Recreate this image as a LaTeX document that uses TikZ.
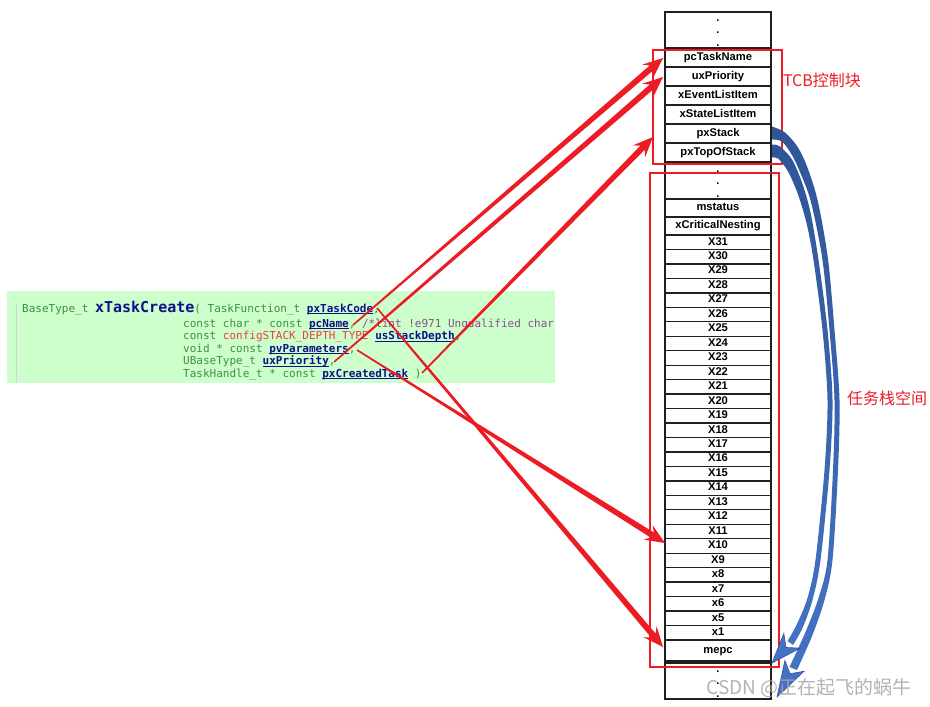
\documentclass[tikz,border=0pt]{standalone}
\usepackage{fontspec}
\setmainfont{Liberation Sans}
\newfontfamily\cjkf{Noto Sans CJK SC}
\newfontfamily\codef{DejaVu Sans Mono}
\usetikzlibrary{calc}
\definecolor{arrred}{HTML}{ED1C24}
\definecolor{boxred}{HTML}{EE1C25}
\definecolor{codebg}{HTML}{CCFFCC}
\definecolor{cgreen}{HTML}{3F8F3F}
\definecolor{cnavy}{HTML}{10108A}
\definecolor{cred}{HTML}{F03C3C}
\definecolor{cpurple}{HTML}{8B4F8B}
\definecolor{bdark}{HTML}{2F5597}
\definecolor{blight}{HTML}{4472C4}
\newcommand\pn[1]{{\color{cnavy}\setbox0=\hbox{\bfseries #1}\rlap{\rule[-2pt]{\wd0}{0.7pt}}\box0}}
\newcommand\redarrow[2]{%
  \path ($(#2)!15pt!(#1)$) coordinate (rab) ($(#2)!20pt!(#1)$) coordinate (rac);
  \fill[arrred] ($(#1)!0.8pt!90:(#2)$) -- ($(rab)!3pt!90:(#2)$) -- ($(rac)!8.5pt!90:(#2)$) -- (#2)
    -- ($(rac)!8.5pt!-90:(#2)$) -- ($(rab)!3pt!-90:(#2)$) -- ($(#1)!0.8pt!-90:(#2)$) -- cycle;}
\newcommand\bluehead[2]{%
  \path ($(#1)!6pt!(#2)$) coordinate (bhn) ($(#1)!-3pt!(#2)$) coordinate (bhw);
  \filldraw[fill=blight, draw=bdark, line width=0.6pt, line join=miter]
    (#2) -- ($(bhw)!11pt!90:(#2)$) -- (bhn) -- ($(bhw)!11pt!-90:(#2)$) -- cycle;}
\begin{document}
\begin{tikzpicture}[x=1pt,y=-1pt,
  cell/.style={draw=black!88, line width=1.3pt, minimum width=106pt, inner sep=0pt,
    font=\bfseries\fontsize{11.2}{12}\selectfont, text height=7.8pt, text depth=2.2pt},
  emptycell/.style={draw=black!88, line width=1.3pt, minimum width=106pt, inner sep=0pt},
  dots/.style={inner sep=0pt, align=center, font=\bfseries\fontsize{11}{12.2}\selectfont},
  redbox/.style={draw=boxred, line width=1.6pt, inner sep=0pt},
  code/.style={anchor=base west, inner sep=0pt, font=\codef\fontsize{11}{13}\selectfont, text=cgreen},
  lab/.style={text=arrred, font=\cjkf\fontsize{16}{18}\selectfont, inner sep=0pt}]
\useasboundingbox (0,0) rectangle (930,707);
\fill[white] (0,0) rectangle (930,707);

% code block
\node[fill=codebg, minimum width=548pt, minimum height=92pt, inner sep=0pt] (codebox) at (281,337) {};
\draw[gray!35, line width=0.6pt] (16,305) -- (16,383);
\node[code] (l1) at (22,312) {BaseType\_t {\fontsize{15}{15}\selectfont\bfseries\color{cnavy}xTaskCreate}( TaskFunction\_t \pn{pxTaskCode},};
\node[code] (l2) at (183,327) {const char * const \pn{pcName}, {\color{cpurple}/*lint !e971 Unqualified char}};
\node[code] (l3) at (183,339.5) {const {\color{cred}configSTACK\_DEPTH\_TYPE} \pn{usStackDepth},};
\node[code] (l4) at (183,352) {void * const \pn{pvParameters},};
\node[code] (l5) at (183,364.5) {UBaseType\_t \pn{uxPriority},};
\node[code] (l6) at (183,377) {TaskHandle\_t * const \pn{pxCreatedTask} )};

% memory column
\node[emptycell, minimum height=36pt] (dtop) at (718,30) {};
\node[dots] (dtopd) at (718,33) {.\\.\\.};
\node[cell, minimum height=19pt] (tname) at (718,57.5) {pcTaskName};
\node[cell, minimum height=19pt] (tprio) at (718,76.5) {uxPriority};
\node[cell, minimum height=19pt] (tevent) at (718,95.5) {xEventListItem};
\node[cell, minimum height=19pt] (tstate) at (718,114.5) {xStateListItem};
\node[cell, minimum height=19pt] (tstack) at (718,133.5) {pxStack};
\node[cell, minimum height=19pt] (ttop) at (718,152.5) {pxTopOfStack};
\node[emptycell, minimum height=37pt] (dmid) at (718,180.5) {};
\node[dots] (dmidd) at (718,184) {.\\.\\.};
\node[cell, minimum height=18pt] (mstat) at (718,208) {mstatus};
\node[cell, minimum height=18pt] (xcrit) at (718,226) {xCriticalNesting};
\foreach \lab [count=\i] in {X31,X30,X29,X28,X27,X26,X25,X24,X23,X22,X21,X20,X19,X18,X17,X16,X15,X14,X13,X12,X11,X10,X9,x8,x7,x6,x5,x1}
  \node[cell, minimum height=14.464pt] (s\i) at (718,{235+(\i-0.5)*14.464}) {\lab};
\node[cell, minimum height=21pt] (mepc) at (718,650.5) {mepc};
\node[emptycell, minimum height=36pt] (dbot) at (718,681) {};
\node[dots] (dbotd) at (718,684) {.\\.\\.};

% red frames and labels
\node[redbox, minimum width=129pt, minimum height=114pt] (tcb) at (717.5,107) {};
\node[redbox, minimum width=129pt, minimum height=494pt] (stk) at (714.5,420) {};
\node[lab] (tcblab) at (822,80) {TCB控制块};
\node[lab] (stklab) at (887,398) {任务栈空间};

% red arrows
\coordinate (cA) at (353,325);
\coordinate (cB) at (334,362);
\coordinate (cC) at (422,373);
\coordinate (cD) at (377,308);
\coordinate (cE) at (357,350);
\coordinate (tA) at (663,58);
\coordinate (tB) at (663,77);
\coordinate (tC) at (653,137);
\coordinate (tD) at (663,647);
\coordinate (tE) at (665,543);
\redarrow{cA}{tA}
\redarrow{cB}{tB}
\redarrow{cC}{tC}
\redarrow{cD}{tD}
\redarrow{cE}{tE}

% blue curved arrows
\shade[top color=bdark, bottom color=blight]
  plot[smooth] coordinates {(772,126.5) (785,132.5) (798,147.5) (808,169) (818,202) (828,259) (834.5,330) (839.5,400) (838,470) (832.5,560) (824.5,600) (812.5,635) (797,670)}
  -- plot[smooth] coordinates {(789.5,667) (805.5,632) (818.5,598) (827.5,560) (833,470) (834.5,400) (829.5,330) (822.5,260) (811.5,204) (802.5,178) (792.5,156) (782,141.5) (772,139.5)}
  -- cycle;
\shade[top color=bdark, bottom color=blight]
  plot[smooth] coordinates {(772,144.5) (780,146.5) (792,159.5) (802,182.5) (810.5,212.5) (818.5,260) (827.5,330) (832.5,400) (829.5,470) (820.5,560) (812.5,600) (802.5,628) (793,645)}
  -- plot[smooth] coordinates {(787.5,641) (796.5,625) (807.5,598) (815.5,560) (824.5,470) (827.5,400) (822.5,330) (813.5,260) (806.5,223) (797.5,193) (787.5,170.5) (778,158.5) (772,157.5)}
  -- cycle;
\coordinate (hb1) at (790,643);
\coordinate (ht1) at (772,663);
\coordinate (hb2) at (793,668.5);
\coordinate (ht2) at (777,697);
\bluehead{hb1}{ht1}
\bluehead{hb2}{ht2}

% watermark
\node[font=\cjkf\fontsize{19}{20}\selectfont, text=gray!70, text opacity=0.85, inner sep=0pt] (wm) at (809,688) {CSDN @正在起飞的蜗牛};
\end{tikzpicture}
\end{document}
